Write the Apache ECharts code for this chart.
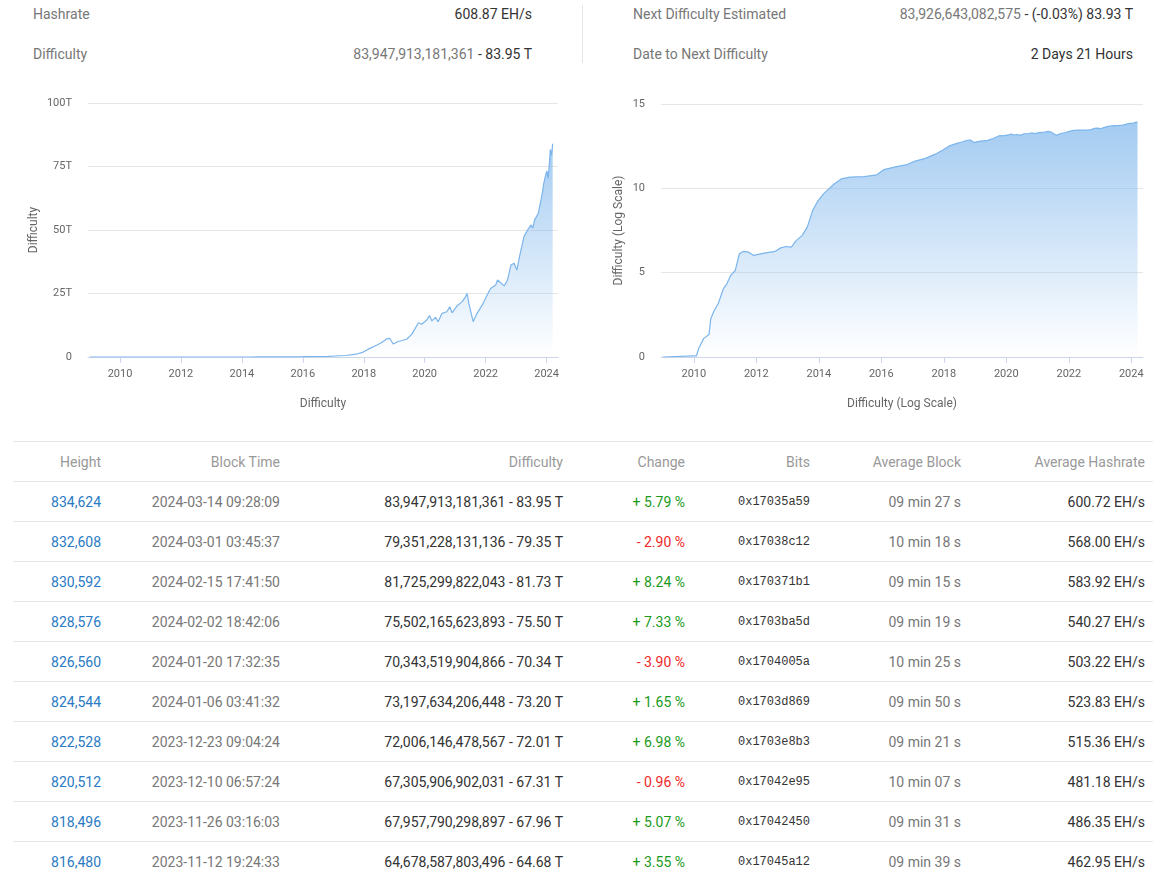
<!DOCTYPE html>
<html>
<head>
<meta charset="utf-8">
<script src="https://cdn.jsdelivr.net/npm/echarts@6/dist/echarts.min.js"></script>
<style>
  html, body { margin: 0; padding: 0; background: #fff; }
  body { width: 1171px; height: 879px; position: relative; overflow: hidden; font-family: Roboto, "Noto Sans", sans-serif; font-size: 14px; }
  .stat { position: absolute; height: 20px; line-height: 20px; font-size: 14px; white-space: nowrap; }
  .lbl { color: #777; }
  .val { color: #333; text-align: right; }
  .val .muted { color: #777; }
  #divider { position: absolute; left: 582px; top: 5px; width: 1px; height: 58px; background: #e6e6e6; }
  #chart { position: absolute; left: 0; top: 80px; width: 1171px; height: 350px; }
  table { position: absolute; left: 13px; top: 441px; width: 1140px; border-collapse: collapse; table-layout: fixed; }
  td, th { height: 39px; padding: 0 8px; text-align: right; border-top: 1px solid #e8e8ec; font-size: 14px; font-weight: normal; white-space: nowrap; }
  th { color: #999; }
  td.h { color: #2a7ac3; }
  td.t { color: #777; }
  td.d { color: #333; }
  td.up { color: #1a9a1a; }
  td.down { color: #f02828; }
  td.b { color: #333; font-family: "Liberation Mono", "DejaVu Sans Mono", monospace; font-size: 12px; }
  td.a { color: #777; }
  td.r { color: #333; }
</style>
</head>
<body>
<div class="stat lbl" style="left:33px; top:4px;">Hashrate</div>
<div class="stat val" style="right:639px; top:4px;" id="hashrate"></div>
<div class="stat lbl" style="left:33px; top:44px;">Difficulty</div>
<div class="stat val" style="right:639px; top:44px;" id="curDiff"></div>
<div id="divider"></div>
<div class="stat lbl" style="left:633px; top:4px;">Next Difficulty Estimated</div>
<div class="stat val" style="right:38px; top:4px;" id="nextDiff"></div>
<div class="stat lbl" style="left:633px; top:44px;">Date to Next Difficulty</div>
<div class="stat val" style="right:38px; top:44px;" id="nextDate"></div>

<div id="chart"></div>

<table id="tbl">
  <colgroup>
    <col style="width:96px"><col style="width:179px"><col style="width:283px"><col style="width:122px"><col style="width:125px"><col style="width:151px"><col style="width:184px">
  </colgroup>
  <thead><tr id="hdr"></tr></thead>
  <tbody id="rows"></tbody>
</table>

<script>
// ---------- summary values ----------
const hashrateText = '608.87 EH/s';
const currentDifficulty = 83947913181361;
const nextDifficulty = 83926643082575;
const nextChangeText = '(-0.03%)';
const nextDateText = '2 Days 21 Hours';

// ---------- difficulty history ----------
const diffDates = [
  '2009-01-03','2009-12-30','2010-02-01','2010-02-25','2010-04-25','2010-06-27','2010-07-18','2010-08-27',
  '2010-10-12','2010-12-13','2011-01-22','2011-03-07','2011-04-30','2011-06-17','2011-07-30','2011-10-01',
  '2011-12-01','2012-04-05','2012-08-07','2012-10-12','2012-12-14','2013-02-14','2013-04-10','2013-06-18',
  '2013-08-19','2013-10-20','2013-12-24','2014-02-24','2014-04-27','2014-06-28','2014-09-20','2015-01-01',
  '2015-06-17','2015-11-10','2016-02-02','2016-06-28','2016-10-30','2017-01-22','2017-05-30','2017-10-01',
  '2017-12-25','2018-03-15','2018-06-03','2018-07-30','2018-10-01','2018-11-10','2018-12-19','2019-02-17',
  '2019-05-30','2019-07-31','2019-10-19','2019-11-25','2020-01-26','2020-02-28','2020-03-27','2020-05-08',
  '2020-06-10','2020-07-27','2020-09-23','2020-10-27','2020-11-25','2021-01-22','2021-03-25','2021-05-04',
  '2021-05-23','2021-06-13','2021-08-04','2021-09-20','2021-11-22','2022-01-19','2022-03-01','2022-05-01',
  '2022-05-23','2022-08-12','2022-09-20','2022-10-30','2022-12-08','2023-01-10','2023-02-06','2023-04-05',
  '2023-05-18','2023-06-28','2023-07-20','2023-08-11','2023-09-24','2023-10-30','2023-11-12','2023-11-26',
  '2023-12-10','2023-12-23','2024-01-06','2024-01-20','2024-02-02','2024-02-15','2024-03-01','2024-03-14'
];
const diffValues = [
  1, 1.18, 1.18, 3.1, 12.3, 21.4, 186, 575,
  1450, 11200, 21900, 69000, 135000, 1.32e6, 1.82e6, 1.66e6,
  1.05e6, 1.45e6, 1.82e6, 2.95e6, 3.55e6, 3.24e6, 7.9e6, 1.58e7,
  5.0e7, 4.8e8, 1.86e9, 4.7e9, 9.3e9, 1.82e10, 3.63e10, 4.57e10,
  5.0e10, 6.3e10, 1.29e11, 1.95e11, 2.57e11, 3.98e11, 6.0e11, 1.1e12,
  1.93e12, 3.4e12, 4.6e12, 5.6e12, 7.1e12, 7.3e12, 5.1e12, 6.1e12,
  7.0e12, 9.0e12, 13.5e12, 12.9e12, 14.6e12, 16.3e12, 14.2e12, 15.6e12,
  13.9e12, 17.2e12, 17.8e12, 19.8e12, 17.4e12, 20.1e12, 21.8e12, 23.7e12,
  25.0e12, 21.1e12, 13.9e12, 17.2e12, 20.5e12, 24.4e12, 27.0e12, 28.3e12,
  30.3e12, 28.0e12, 30.3e12, 36.2e12, 36.9e12, 34.2e12, 38.8e12, 47.4e12,
  50.0e12, 52.0e12, 50.7e12, 54.0e12, 56.6e12, 62.5e12, 64678587803496, 67957790298897,
  67305906902031, 72006146478567, 73197634206448, 70343519904866, 75502165623893, 81725299822043, 79351228131136, 83947913181361
];

// ---------- axis ticks ----------
const xTickYears = [2010, 2012, 2014, 2016, 2018, 2020, 2022, 2024];
const xAxisStart = '2008-12-13';
const xAxisEnd = '2024-05-17';
const linearTicksT = [0, 25, 50, 75, 100];
const logTicks = [0, 5, 10, 15];

// ---------- table ----------
const tableHeaders = ['Height', 'Block Time', 'Difficulty', 'Change', 'Bits', 'Average Block', 'Average Hashrate'];
const tblHeight = [834624, 832608, 830592, 828576, 826560, 824544, 822528, 820512, 818496, 816480];
const tblTime = ['2024-03-14 09:28:09','2024-03-01 03:45:37','2024-02-15 17:41:50','2024-02-02 18:42:06','2024-01-20 17:32:35',
                 '2024-01-06 03:41:32','2023-12-23 09:04:24','2023-12-10 06:57:24','2023-11-26 03:16:03','2023-11-12 19:24:33'];
const tblDifficulty = [83947913181361, 79351228131136, 81725299822043, 75502165623893, 70343519904866,
                       73197634206448, 72006146478567, 67305906902031, 67957790298897, 64678587803496];
const tblChange = [5.79, -2.90, 8.24, 7.33, -3.90, 1.65, 6.98, -0.96, 5.07, 3.55];
const tblBits = ['0x17035a59','0x17038c12','0x170371b1','0x1703ba5d','0x1704005a','0x1703d869','0x1703e8b3','0x17042e95','0x17042450','0x17045a12'];
const tblAvgBlock = ['09 min 27 s','10 min 18 s','09 min 15 s','09 min 19 s','10 min 25 s','09 min 50 s','09 min 21 s','10 min 07 s','09 min 31 s','09 min 39 s'];
const tblHashrate = [600.72, 568.00, 583.92, 540.27, 503.22, 523.83, 515.36, 481.18, 486.35, 462.95];

// ---------- helpers ----------
const fmtInt = n => n.toLocaleString('en-US');
const fmtT = n => (n / 1e12).toFixed(2) + ' T';
const ts = s => Date.UTC(+s.slice(0, 4), +s.slice(5, 7) - 1, +s.slice(8, 10));

// summary
document.getElementById('hashrate').textContent = hashrateText;
document.getElementById('curDiff').innerHTML = '<span class="muted">' + fmtInt(currentDifficulty) + '</span> - ' + fmtT(currentDifficulty);
document.getElementById('nextDiff').innerHTML = '<span class="muted">' + fmtInt(nextDifficulty) + '</span> - ' + nextChangeText + ' ' + fmtT(nextDifficulty);
document.getElementById('nextDate').textContent = nextDateText;

// table
document.getElementById('hdr').innerHTML = tableHeaders.map(h => '<th>' + h + '</th>').join('');
let rowsHtml = '';
for (let i = 0; i < tblHeight.length; i++) {
  const c = tblChange[i];
  rowsHtml += '<tr>' +
    '<td class="h">' + fmtInt(tblHeight[i]) + '</td>' +
    '<td class="t">' + tblTime[i] + '</td>' +
    '<td class="d">' + fmtInt(tblDifficulty[i]) + ' - ' + fmtT(tblDifficulty[i]) + '</td>' +
    '<td class="' + (c >= 0 ? 'up' : 'down') + '">' + (c >= 0 ? '+ ' : '- ') + Math.abs(c).toFixed(2) + ' %</td>' +
    '<td class="b">' + tblBits[i] + '</td>' +
    '<td class="a">' + tblAvgBlock[i] + '</td>' +
    '<td class="r">' + tblHashrate[i].toFixed(2) + ' EH/s</td>' +
    '</tr>';
}
document.getElementById('rows').innerHTML = rowsHtml;

// chart
const linearData = diffDates.map((d, i) => [ts(d), diffValues[i]]);
const logData = diffDates.map((d, i) => [ts(d), Math.log10(diffValues[i])]);
const xTicks = xTickYears.map(y => Date.UTC(y, 0, 1));

const axisColor = '#ccd6eb';
const labelColor = '#666';

function makeX(gi, name) {
  return {
    gridIndex: gi, type: 'value', min: ts(xAxisStart), max: ts(xAxisEnd),
    axisLine: { show: true, lineStyle: { color: axisColor, width: 1 } },
    axisTick: { show: true, length: 6, lineStyle: { color: axisColor }, customValues: xTicks },
    axisLabel: { customValues: xTicks, formatter: v => String(new Date(v).getUTCFullYear()), color: labelColor, fontSize: 11, margin: 12, fontFamily: 'Roboto' },
    splitLine: { show: false },
    name: name, nameLocation: 'middle', nameGap: 41,
    nameTextStyle: { color: labelColor, fontSize: 12, fontFamily: 'Roboto' }
  };
}
function makeY(gi, name, min, max, interval, fmt, margin, gap) {
  return {
    gridIndex: gi, type: 'value', min: min, max: max, interval: interval,
    axisLine: { show: false }, axisTick: { show: false },
    axisLabel: { formatter: fmt, color: labelColor, fontSize: 11, margin: margin, fontFamily: 'Roboto' },
    splitLine: { show: true, lineStyle: { color: '#e6e6e6', width: 1 } },
    name: name, nameLocation: 'middle', nameGap: gap, nameRotate: 90,
    nameTextStyle: { color: labelColor, fontSize: 12, fontFamily: 'Roboto' }
  };
}
const areaGrad = () => new echarts.graphic.LinearGradient(0, 0, 0, 1, [
  { offset: 0, color: 'rgba(124,181,236,1)' },
  { offset: 1, color: 'rgba(124,181,236,0)' }
]);

const chart = echarts.init(document.getElementById('chart'), null, { renderer: 'canvas' });
chart.setOption({
  animation: false,
  grid: [
    { left: 88, width: 470, top: 23, height: 254 },
    { left: 661, width: 482, top: 24, height: 253 }
  ],
  xAxis: [makeX(0, 'Difficulty'), makeX(1, 'Difficulty (Log Scale)')],
  yAxis: [
    makeY(0, 'Difficulty', linearTicksT[0] * 1e12, linearTicksT[linearTicksT.length - 1] * 1e12, 25e12,
          v => v === 0 ? '0' : (v / 1e12) + 'T', 16, 48),
    makeY(1, 'Difficulty (Log Scale)', logTicks[0], logTicks[logTicks.length - 1], 5, v => String(v), 16, 36)
  ],
  series: [
    { type: 'line', xAxisIndex: 0, yAxisIndex: 0, data: linearData, showSymbol: false, smooth: false,
      lineStyle: { color: '#7cb5ec', width: 1.2 }, areaStyle: { color: areaGrad() } },
    { type: 'line', xAxisIndex: 1, yAxisIndex: 1, data: logData, showSymbol: false, smooth: false,
      lineStyle: { color: '#7cb5ec', width: 1.2 }, areaStyle: { color: areaGrad() } }
  ]
});
</script>
</body>
</html>
